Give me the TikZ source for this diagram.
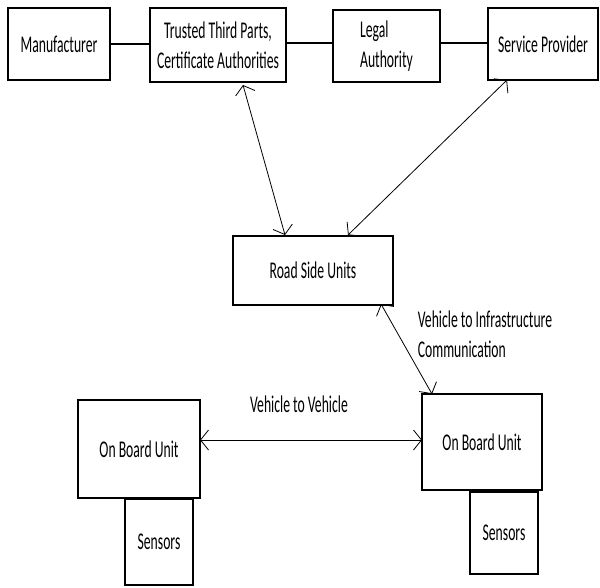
\documentclass[tikz,border=0pt]{standalone}
\usepackage{fontspec}
\setmainfont{Carlito}[FakeStretch=0.57]
\usetikzlibrary{arrows.meta}

\tikzset{
	unitbox/.style={draw, line width=1.2pt, inner sep=0pt, outer sep=0pt, align=center},
	lbl/.style={inner sep=0pt, align=left},
	link/.style={line width=1.2pt},
	comm/.style={line width=0.8pt, {Straight Barb[length=8pt,width=20pt]}-{Straight Barb[length=8pt,width=20pt]}}
}

\begin{document}
\begin{tikzpicture}[x=1pt, y=-1pt, font=\fontsize{24}{30}\selectfont]
	\useasboundingbox (0,0) rectangle (600,587);
	% top row
	\node[unitbox, minimum width=102pt, minimum height=72pt] (mfr) at (59,44) {Manufacturer};
	\node[unitbox, minimum width=136pt, minimum height=74pt] (ttp) at (218,45) {Trusted Third Parts,\\Certificate Authorities};
	\node[unitbox, minimum width=107pt, minimum height=72pt, align=left] (legal) at (386.5,46) {Legal\\Authority};
	\node[unitbox, minimum width=110pt, minimum height=72pt] (sp) at (543,44) {Service Provider};
	\draw[link] (mfr.east) -- (mfr.east -| ttp.west);
	\draw[link] ([yshift=2pt]ttp.east) -- ([yshift=3pt]legal.west);
	\draw[link] ([yshift=3pt]legal.east) -- ([yshift=1pt]sp.west);
	% road side
	\node[unitbox, minimum width=160pt, minimum height=69pt] (rsu) at (313,270.5) {Road Side Units};
	\draw[comm] ([xshift=25pt,yshift=-3pt]ttp.south) -- ([xshift=-28pt,yshift=1pt]rsu.north);
	\draw[comm] ([xshift=-36pt]sp.south) -- ([xshift=35pt,yshift=1pt]rsu.north);
	% vehicles
	\node[unitbox, minimum width=122pt, minimum height=98pt] (obuL) at (139,449) {On Board Unit};
	\node[unitbox, minimum width=120pt, minimum height=96pt] (obuR) at (482,442) {On Board Unit};
	\node[unitbox, minimum width=68pt, minimum height=86pt] (sensL) at (159,542) {Sensors};
	\node[unitbox, minimum width=68pt, minimum height=82pt] (sensR) at (504,533) {Sensors};
	\draw[comm] ([xshift=-12pt,yshift=1pt]rsu.south east) -- ([xshift=10pt]obuR.north west);
	\draw[comm] ([yshift=9pt]obuL.east) -- ([yshift=2pt]obuR.west);
	\node[lbl] (v2i) at (485,334) {Vehicle to Infrastructure\\Communication};
	\node[lbl] (v2v) at (299,404) {Vehicle to Vehicle};
\end{tikzpicture}
\end{document}
